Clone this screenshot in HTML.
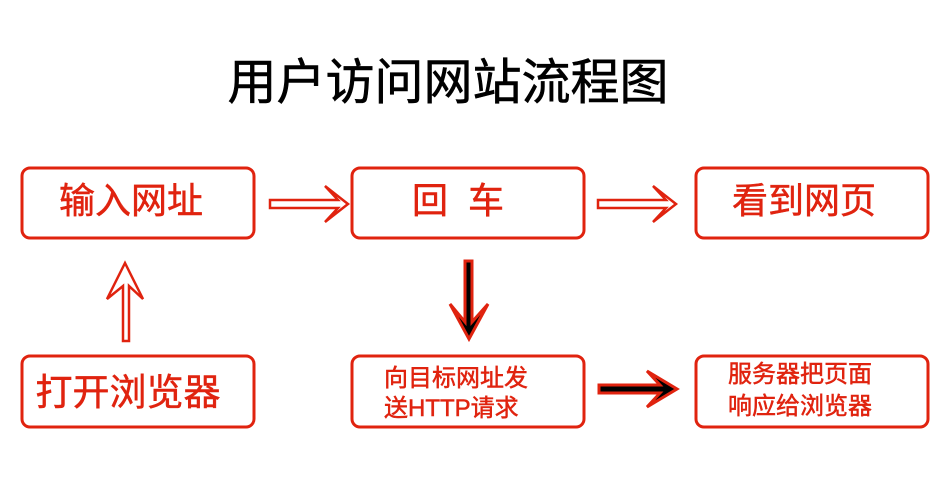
<!DOCTYPE html>
<html><head><meta charset="utf-8"><style>
html,body{margin:0;padding:0;background:#fff;}
svg{display:block;}
text{font-family:"Liberation Sans","Noto Sans CJK SC",sans-serif;}
</style></head><body>
<svg width="950" height="490" viewBox="0 0 950 490" xmlns="http://www.w3.org/2000/svg">
<text x="448" y="99" font-size="49" text-anchor="middle" fill="#000" stroke="#000" stroke-width="0.6">用户访问网站流程图</text>
<g fill="none" stroke="#e0230f" stroke-width="3">
<rect x="22" y="168" width="232" height="70" rx="8"/>
<rect x="352" y="168" width="232" height="70" rx="8"/>
<rect x="696" y="168" width="232" height="70" rx="8"/>
<rect x="22" y="356" width="232" height="71" rx="8"/>
<rect x="352" y="356" width="232" height="71" rx="8"/>
<rect x="696" y="356" width="232" height="71" rx="8"/>
</g>
<g fill="#e0230f" stroke="#e0230f" stroke-width="0.5">
<text x="131" y="213" font-size="36" text-anchor="middle">输入网址</text>
<text x="458" y="213" font-size="36" text-anchor="middle" xml:space="preserve">回  车</text>
<text x="804" y="213" font-size="36" text-anchor="middle">看到网页</text>
<text x="128" y="405" font-size="37" text-anchor="middle">打开浏览器</text>
<text x="384" y="386" font-size="24">向目标网址发</text>
<text x="384" y="416" font-size="24">送HTTP请求</text>
<text x="728" y="382" font-size="24">服务器把页面</text>
<text x="728" y="414" font-size="24">响应给浏览器</text>
</g>
<g fill="#fff" stroke="#e0230f" stroke-width="2.5" stroke-linejoin="miter">
<path d="M270 200 L338 200 L325 186 L348 204 L325 222 L338 208 L270 208 Z"/>
<path d="M598 200 L666 200 L653 186 L676 204 L653 222 L666 208 L598 208 Z"/>
<path d="M123 341 L123 286 L107 299 L125 263 L143 299 L129 286 L129 341 Z"/>
</g>
<path d="M465 261 L465 322 L450 304 L469 339 L488 304 L472 322 L472 261 Z" fill="#000" stroke="#e0230f" stroke-width="3"/>
<path d="M599 385 L660 385 L647 371 L677 389 L647 407 L660 393 L599 393 Z" fill="#000" stroke="#e0230f" stroke-width="3"/>
</svg>
</body></html>
